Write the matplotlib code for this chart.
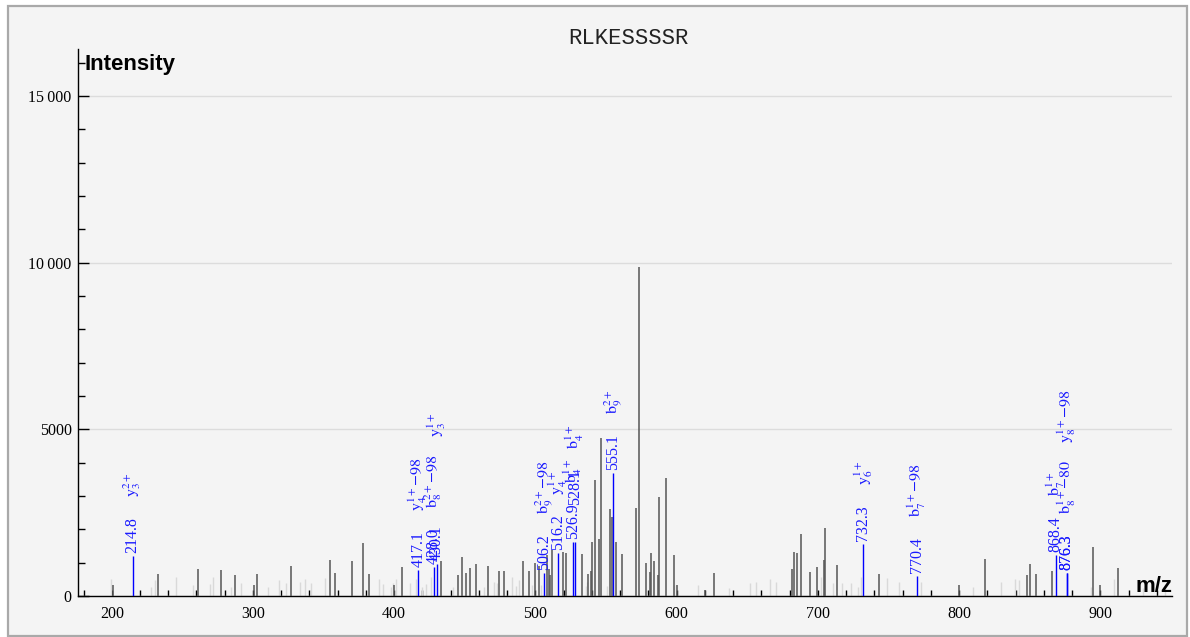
import matplotlib
matplotlib.use('Agg')
import matplotlib.pyplot as plt
from matplotlib.patches import Rectangle
from matplotlib.ticker import MultipleLocator, FixedLocator, FuncFormatter

plt.rcParams['mathtext.fontset'] = 'stix'

# ---------------- data ----------------
title = "RLKESSSSR"

dark_mz = [200.7, 233.0, 261.1, 277.2, 287.1, 300.4, 303.2, 327.2, 354.2, 358.2,
           370.1, 378.2, 382.2, 400.2, 405.3, 433.0, 444.9, 448.2, 451.0, 453.9,
           457.9, 466.1, 474.0, 477.9, 491.0, 495.4, 499.7, 502.2, 508.0, 509.4,
           510.6, 511.6, 519.3, 521.5, 533.2, 537.2, 539.2, 540.3, 542.2, 545.3,
           546.2, 552.8, 554.3, 556.9, 561.1, 571.2, 573.1, 578.1, 581.2, 582.1,
           584.2, 586.6, 587.3, 592.3, 598.2, 600.1, 620.1, 626.3, 681.5, 683.4,
           685.0, 688.1, 694.3, 699.4, 704.5, 705.1, 713.4, 743.6, 800.0, 818.2,
           848.3, 850.2, 854.3, 866.1, 895.1, 899.8, 912.5]
dark_int = [320, 660, 800, 780, 630, 320, 660, 900, 1080, 680,
            1040, 1600, 660, 320, 870, 1060, 630, 1180, 700, 840,
            960, 900, 740, 760, 1050, 750, 980, 900, 1230, 800,
            630, 1380, 1330, 1280, 1270, 670, 760, 1630, 3480, 1700,
            4730, 2600, 2380, 1630, 1260, 2630, 9860, 980, 730, 1300,
            1060, 630, 2960, 3530, 1230, 330, 190, 690, 810, 1320,
            1280, 1860, 720, 860, 1080, 2040, 930, 650, 320, 1110,
            630, 950, 660, 750, 1460, 320, 830]

light_mz = [199.5, 228.0, 230.9, 245.3, 257.8, 269.9, 272.0, 284.3, 291.4, 310.3,
            318.2, 323.4, 333.3, 337.2, 341.3, 351.3, 389.2, 392.1, 397.5, 399.2,
            401.5, 411.3, 415.3, 419.5, 422.4, 426.3, 441.9, 463.6, 470.7, 472.5,
            483.6, 486.5, 488.6, 497.6, 504.0, 535.5, 536.8, 551.0, 598.5, 615.4,
            637.0, 652.2, 656.2, 666.1, 670.4, 702.3, 711.0, 717.4, 723.3, 728.2,
            730.4, 749.2, 757.3, 772.9, 810.1, 829.5, 839.4, 842.3, 893.3, 909.8,
            930.0, 946.0]
light_int = [500, 280, 480, 560, 320, 360, 580, 280, 400, 260,
             480, 400, 420, 520, 400, 550, 510, 360, 280, 400,
             520, 390, 520, 260, 370, 560, 260, 280, 430, 400,
             580, 300, 480, 330, 330, 300, 430, 300, 330, 330,
             250, 400, 430, 520, 420, 580, 400, 380, 400, 280,
             560, 530, 430, 430, 260, 430, 510, 480, 280, 500,
             250, 280]

ion_mz = [214.8, 417.1, 428.0, 430.1, 506.2, 516.2, 526.9, 528.1, 555.1,
          732.3, 770.4, 868.4, 876.3, 876.3]
ion_int = [1200, 780, 880, 960, 690, 1280, 1630, 1630, 3690,
           1570, 590, 1230, 690, 690]
ion_labels = [r"$\mathrm{y}_3^{2+}$", r"$\mathrm{y}_4^{1+}{-}98$", r"$\mathrm{b}_8^{2+}{-}98$",
              r"$\mathrm{y}_3^{1+}$", r"$\mathrm{b}_9^{2+}{-}98$", r"$\mathrm{y}_4^{1+}$",
              r"$\mathrm{b}_4^{1+}$", r"$\mathrm{b}_4^{1+}$", r"$\mathrm{b}_9^{2+}$",
              r"$\mathrm{y}_6^{1+}$", r"$\mathrm{b}_7^{1+}{-}98$", r"$\mathrm{b}_7^{1+}$",
              r"$\mathrm{b}_8^{1+}{-}80$", r"$\mathrm{y}_8^{1+}{-}98$"]

x_ticks = [200, 300, 400, 500, 600, 700, 800, 900]
y_ticks = [0, 5000, 10000, 15000]

# layout (pixels) for stacked annotations
number_lift = [0, 0, 0, 0, 0, 0, 0, 34, 0, 0, 0, 0, 0, 0]
label_lift = [0, 0, 0, 68, 0, 0, 0, 0, 0, 0, 0, 0, 0, 71]

# ---------------- figure ----------------
W, H = 1190, 637
fig = plt.figure(figsize=(W / 100, H / 100), dpi=100)
fig.patch.set_facecolor('white')
fig.patches.append(Rectangle((8 / W, 1 - 636 / H), (1187 - 8) / W, (636 - 6) / H,
                             transform=fig.transFigure, facecolor='#f4f4f4',
                             edgecolor='#a9a9a9', lw=1.6, zorder=-10))

ax = fig.add_axes([78 / W, 1 - 596 / H, (1172 - 78) / W, (596 - 49) / H])
ax.set_facecolor('none')
ax.set_xlim(176.1, 950.8)
ax.set_ylim(0, 16410)

for s in ('top', 'right'):
    ax.spines[s].set_visible(False)
for s in ('left', 'bottom'):
    ax.spines[s].set_color('black')
    ax.spines[s].set_linewidth(1.0)

ax.yaxis.grid(True, which='major', color='#dcdcdc', lw=1.0)
ax.set_axisbelow(True)

ax.xaxis.set_major_locator(FixedLocator(x_ticks))
ax.xaxis.set_minor_locator(MultipleLocator(20))
ax.yaxis.set_major_locator(FixedLocator(y_ticks))
ax.yaxis.set_minor_locator(MultipleLocator(1000))


def yfmt(v, pos):
    v = int(round(v))
    if v >= 10000:
        return f"{v // 1000}\u2009{v % 1000:03d}"
    return f"{v}"


ax.yaxis.set_major_formatter(FuncFormatter(yfmt))
ax.tick_params(axis='x', which='both', direction='in', length=4.5, width=1.0,
               color='black', pad=7, labelsize=11.5)
ax.tick_params(axis='y', which='major', direction='in', length=8, width=1.0,
               color='black', pad=4.5, labelsize=11.5)
ax.tick_params(axis='y', which='minor', direction='in', length=5, width=1.0,
               color='black')
for lab in ax.get_xticklabels() + ax.get_yticklabels():
    lab.set_family('Liberation Serif')

ax.vlines(light_mz, 0, light_int, colors='#d9d9d9', lw=1.0, zorder=2)
ax.vlines(dark_mz, 0, dark_int, colors='#555555', lw=1.1, zorder=3)
ax.vlines(ion_mz, 0, ion_int, colors='#0000ff', lw=1.0, zorder=4)

blue = '#1a1aff'
renderer = fig.canvas.get_renderer()
for mz, inten, lab, nl, ll in zip(ion_mz, ion_int, ion_labels, number_lift, label_lift):
    t = ax.annotate(f"{mz:.1f}", xy=(mz, inten), xytext=(0, 3 + nl),
                    textcoords='offset pixels', rotation=90, ha='center', va='bottom',
                    color=blue, fontsize=11.5, family='Liberation Serif', zorder=5)
    h = t.get_window_extent(renderer).height
    ax.annotate(lab, xy=(mz, inten), xytext=(0, 3 + nl + h + 20 + ll),
                textcoords='offset pixels', rotation=90, ha='center', va='bottom',
                color=blue, fontsize=11.5, family='Liberation Serif', zorder=5)

fig.text(628 / W, 1 - 38 / H, title, ha='center', va='center',
         family='Liberation Mono', fontsize=16, color='#222222')
fig.text(85 / W, 1 - 70 / H, 'Intensity', ha='left', va='baseline',
         family='Liberation Sans', fontsize=16, fontweight='bold', color='black')
fig.text(1172 / W, 1 - 592 / H, 'm/z', ha='right', va='baseline',
         family='Liberation Sans', fontsize=16, fontweight='bold', color='black')

fig.savefig('out.png', dpi=100, facecolor=fig.get_facecolor())
